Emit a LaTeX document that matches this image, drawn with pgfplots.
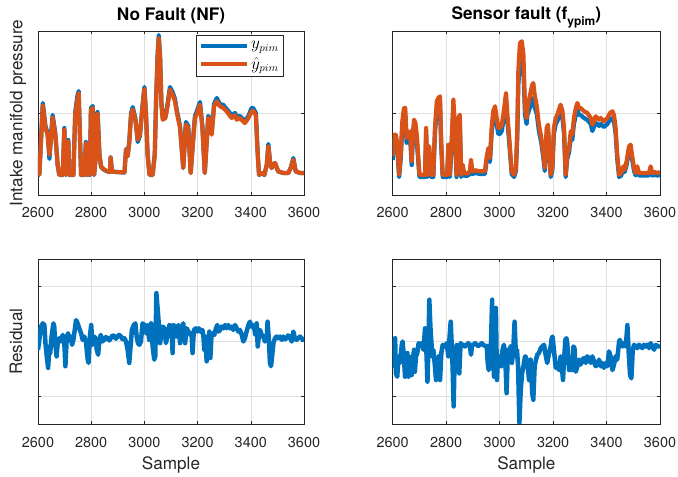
\documentclass[border=0pt]{standalone}
\usepackage{fontspec}
\setmainfont{TeX Gyre Heros}
\usepackage{pgfplots}
\usepackage{pgfplotstable}
\pgfplotsset{compat=1.18}
\definecolor{mblue}{HTML}{0072BD}
\definecolor{morange}{HTML}{D95319}
\definecolor{axgray}{HTML}{262626}
\definecolor{gridgray}{HTML}{DFDFDF}

\pgfplotstableread{
x o b
2600 40.3 41
2605 20.3 20
2618 89.7 92
2628 67 69
2636 60.3 62
2643 40.3 36
2649 57 59
2655 77.7 80
2665 60.3 62
2674 30.3 29
2680 20.3 20
2693 20.3 20
2699 65.3 67
2705 20.3 20
2714 53.7 55
2718 20.3 20
2733 20.3 20
2740 80.3 83
2748 95.3 99
2753 102 104
2757 63.7 65
2762 20.3 20
2774 20.3 20
2780 52 53
2786 20.3 20
2790 47 48
2795 20.3 20
2799 85.3 87
2806 87 89
2811 20.3 20
2818 40 41
2824 81 83
2831 40 41
2837 28.7 28
2849 25.3 25
2862 23.7 23.5
2871 23 23
2873 37.7 38
2878 23.7 23.5
2893 23 23
2925 22.7 22.5
2931 45.3 46
2937 38.7 39
2943 52 53
2950 80.3 82
2956 85.3 88
2966 75.3 77
2975 55.3 53
2983 60.3 59
2991 82 84
3000 106 108
3006 80.3 82
3012 40.3 41
3019 20.3 20
3031 20.3 20
3039 40.3 41
3044 93.7 96
3050 140.3 143
3054 157 160
3059 137 139
3064 90.3 92
3069 75.3 77
3079 77 79
3087 88.7 91
3096 105.3 108
3106 100.3 103
3115 93.7 96
3121 83.7 86
3134 67 69
3146 27 27
3156 70.3 73
3165 67 69
3174 22 22
3184 57 59
3190 77 79
3196 80.3 83
3209 90.3 93
3218 67 69
3227 22 22
3240 77 79
3247 75.3 77
3253 60.3 62
3262 88.7 91
3272 93.7 97
3284 88.7 91
3297 87 90
3309 83.7 86
3328 77 80
3341 79.7 82
3347 75.3 78
3359 77 79
3378 72 74
3391 77 79
3403 83.7 87
3409 84.3 87
3419 79.7 82
3426 40.3 41
3431 20.3 20
3441 22 22
3451 20.3 20
3460 30.3 30
3466 48.7 51
3472 33.7 34
3478 27 27
3491 32 32
3503 23.7 23.5
3522 22 22
3541 22 22
3550 27 27
3560 35.3 37
3569 23.7 23.5
3585 22 22
3600 22 22
}\TLdata

\pgfplotstableread{
x o b
2600 38.7 35
2605 60.3 55
2612 60.3 55
2617 52 47
2624 20.3 18
2630 40.3 36
2636 73.7 68
2642 87 80
2647 87 80
2652 57 52
2659 60.3 55
2665 63.7 58
2671 33.7 30
2675 60.3 55
2680 75.3 69
2685 72 66
2690 60.3 55
2695 40.3 36
2700 20.3 18
2708 20.3 18
2721 20.3 18
2725 67 61
2730 20.3 18
2737 48.7 44
2742 20.3 18
2752 20.3 18
2758 67 61
2765 93.7 86
2771 97 89
2777 98.7 91
2781 57 52
2787 20.3 18
2796 20.3 18
2804 20.3 18
2808 50.3 46
2814 20.3 18
2821 57 52
2827 95.3 88
2833 67 61
2839 20.3 18
2846 77 71
2851 80.3 74
2856 20.3 18
2862 30.3 27
2867 22 19.5
2877 21.3 19
2889 23.7 21
2893 35.3 32
2898 23.7 21
2908 24.7 22
2927 23.7 21
2945 23.7 21
2952 38.7 35
2958 47 43
2964 37 33
2970 67 61
2976 83.7 77
2983 88.7 81
2989 77 71
2995 67 61
3001 67 61
3008 70.3 64
3014 80.3 74
3024 102 94
3029 80.3 74
3036 57 52
3045 23.7 21
3054 20.3 18
3061 27 24
3066 63.7 58
3070 123.7 110
3076 152 135
3083 153.7 137
3089 140.3 124
3095 87 80
3101 77 71
3104 87 80
3114 100.3 88
3122 110.3 96
3126 112 97
3131 100.3 88
3139 88.7 81
3147 70.3 64
3156 57 52
3164 40.3 36
3169 27 24
3176 67 61
3181 70.3 64
3185 50.3 46
3191 20.3 18
3197 27 24
3203 67 61
3210 77 71
3216 80.3 74
3222 85.3 78
3228 90.3 83
3235 83.7 77
3241 67 61
3247 20.3 18
3253 40.3 36
3260 47 43
3266 63.7 58
3272 60.3 55
3278 77 71
3285 87 80
3291 92 85
3297 87 80
3303 87 80
3316 83.7 77
3328 82 75
3341 77 71
3347 70.3 64
3353 73.7 68
3359 78.7 72
3366 77 71
3372 75.3 69
3378 77 71
3390 73.7 68
3403 77 71
3413 82 75
3422 83.7 77
3428 79.7 73
3434 67 61
3440 40.3 36
3447 20.3 18
3455 22 19.5
3463 28.7 26
3468 25.3 23
3475 33.7 30
3484 48.7 44
3490 50.3 46
3496 38.7 35
3503 27 24
3509 22 19.5
3515 28.7 26
3521 22 19.5
3534 22 19.5
3546 22 19.5
3559 22 19.5
3565 28.7 26
3571 22 19.5
3580 23 20
3590 22 19.5
3600 23 20
}\TRdata

\pgfplotstableread{
x r
2600 -0.15
2605 0.03
2611 0.27
2618 0.33
2624 0.30
2628 -0.03
2633 -0.27
2638 -0.48
2643 -0.09
2646 -0.21
2651 0.09
2658 0.33
2661 0.27
2665 -0.03
2670 -0.27
2674 -0.03
2680 0.06
2686 0
2693 0.12
2699 -0.03
2703 -0.45
2708 0.06
2713 0.15
2718 0.03
2723 0.09
2728 -0.06
2733 0.03
2739 0.24
2743 0.39
2749 0.33
2755 0.24
2762 0.15
2768 0.03
2774 0.09
2780 0
2787 -0.33
2790 -0.39
2795 0.09
2800 0.30
2805 -0.06
2811 0.09
2816 0.06
2821 -0.15
2826 -0.24
2831 0.03
2836 0.12
2841 0
2849 0.03
2855 0.08
2862 0.06
2868 0.02
2874 0.06
2880 0.11
2887 0.10
2893 0.05
2899 0.09
2905 0.12
2912 0.09
2918 0.04
2925 0.06
2931 0
2937 -0.15
2943 -0.39
2948 -0.09
2953 0.21
2960 0.30
2966 0.33
2971 0.09
2976 -0.03
2981 -0.06
2987 0
2993 0.33
3000 0.30
3006 0.15
3012 0.30
3018 0.03
3025 0.33
3031 -0.09
3037 -0.33
3041 -0.27
3045 0.88
3049 0.64
3054 0.33
3059 -0.03
3064 0.15
3069 0.27
3075 0.24
3081 -0.03
3087 0.12
3094 0.30
3102 0.27
3106 -0.21
3109 0.30
3115 0.27
3121 0.09
3128 0.30
3134 -0.03
3140 0.24
3146 0.33
3153 -0.03
3159 0.24
3165 0.18
3171 0.15
3178 0.09
3181 -0.21
3186 0.21
3193 0.24
3199 0.18
3205 0.24
3211 0.18
3218 0.21
3222 0.09
3225 -0.15
3229 0.09
3234 -0.36
3239 -0.15
3244 0.18
3248 -0.30
3252 0.09
3257 0.15
3263 0.12
3269 0.24
3274 0.30
3279 0.18
3284 0.21
3290 0.27
3297 0.24
3303 0.30
3309 0.24
3315 0.30
3322 0.24
3328 0.27
3334 0.21
3341 0.30
3347 0.24
3353 0.18
3359 0.21
3366 0.12
3372 0
3378 0.06
3384 0.18
3391 0.30
3397 0.36
3402 0.27
3407 0.30
3412 0.27
3417 0.12
3422 0.33
3426 -0.09
3430 0.09
3435 0.21
3441 0.12
3447 0.09
3453 0
3460 0.06
3463 0.36
3468 0.03
3472 -0.39
3476 -0.45
3480 -0.27
3485 -0.03
3491 0.06
3497 0.09
3503 0.06
3510 0.09
3516 0.03
3522 0.09
3528 0.04
3535 0.06
3540 0.11
3545 0.09
3554 0
3560 0.18
3566 0.06
3572 0.03
3579 0.06
3585 0.09
3591 0.06
3597 0.03
3600 0.06
}\BLdata

\pgfplotstableread{
x r
2600 -0.33
2605 -0.45
2609 0.06
2612 -0.58
2617 -0.64
2622 -0.27
2627 -0.39
2634 -0.06
2637 0
2642 -0.27
2646 -0.64
2650 -0.45
2655 -0.21
2659 -0.64
2662 -0.27
2667 -0.33
2671 -0.61
2675 -0.33
2680 -0.15
2683 -0.55
2687 -0.27
2692 -0.21
2697 -0.03
2702 -0.06
2708 -0.03
2715 -0.15
2721 0.24
2725 -0.03
2730 -0.73
2733 -0.21
2737 0.76
2741 0.27
2745 -0.03
2748 -0.27
2752 -0.15
2757 -0.39
2762 -0.70
2767 -0.45
2772 -0.27
2777 -0.70
2782 -0.21
2787 -0.06
2792 -0.09
2797 -0.09
2802 -0.03
2808 -0.27
2812 0.03
2817 0.36
2821 -0.09
2824 -0.45
2828 -1.18
2832 -0.21
2836 -0.52
2839 -0.06
2844 -0.09
2849 -0.58
2854 -0.03
2859 -0.06
2864 -0.06
2870 -0.09
2877 -0.06
2883 -0.03
2889 -0.09
2893 -0.24
2897 -0.06
2902 -0.06
2908 -0.03
2914 -0.06
2920 -0.08
2927 -0.06
2933 -0.03
2939 -0.06
2945 -0.08
2952 -0.08
2955 -0.36
2959 -0.52
2964 -0.39
2968 0.03
2972 0.76
2975 -0.21
2979 -0.64
2983 -0.15
2986 0.61
2990 -0.70
2994 -0.27
2998 -0.39
3001 -0.27
3006 -0.45
3011 -0.15
3016 -0.06
3021 -0.27
3026 -0.94
3031 -0.15
3036 -0.33
3041 -0.09
3046 -0.39
3051 -0.15
3056 0.36
3061 -0.27
3065 -0.15
3069 -0.45
3074 -1.48
3079 -0.88
3084 -0.58
3089 -0.45
3095 -0.27
3097 -0.27
3104 -0.39
3110 -0.70
3116 -0.33
3122 -0.94
3126 -1.06
3131 -0.45
3136 -0.33
3141 -0.24
3147 -0.21
3154 -0.12
3160 -0.09
3166 -0.06
3172 -0.24
3178 -0.39
3185 -0.21
3191 -0.09
3195 0.06
3198 0.09
3203 -0.15
3210 -0.48
3216 -0.42
3222 -0.52
3228 -0.27
3232 -0.39
3237 -0.70
3241 -0.33
3246 0.03
3250 0.06
3253 -0.03
3260 -0.52
3266 -0.33
3272 -0.52
3276 -0.09
3280 -0.12
3285 -0.55
3291 -0.45
3297 -0.33
3303 -0.42
3309 -0.33
3316 -0.30
3322 -0.39
3328 -0.27
3334 -0.30
3341 -0.39
3347 -0.27
3353 -0.36
3359 -0.45
3366 -0.42
3372 -0.33
3378 -0.45
3384 -0.39
3390 -0.48
3397 -0.39
3403 -0.45
3409 -0.18
3415 -0.27
3422 -0.52
3428 -0.42
3434 -0.27
3440 -0.33
3447 0
3450 0.03
3455 -0.06
3460 -0.09
3465 -0.03
3472 -0.09
3478 0.30
3483 -0.21
3488 -0.61
3493 -0.67
3498 -0.15
3503 -0.06
3509 -0.09
3515 -0.12
3521 -0.06
3528 -0.09
3534 -0.12
3540 -0.06
3546 -0.09
3553 -0.06
3559 -0.12
3565 -0.03
3571 -0.09
3578 -0.15
3584 -0.06
3590 -0.09
3596 -0.09
3600 -0.06
}\BRdata

\pgfplotsset{
  mystyle/.style={
    scale only axis,
    xmin=2600, xmax=3600,
    xtick={2600,2800,3000,3200,3400,3600},
    grid=major,
    major grid style={gridgray, line width=0.6bp},
    axis line style={axgray, line width=0.6bp},
    tick style={axgray, line width=0.6bp},
    major tick length=3bp,
    tick align=inside,
    yticklabels={},
    ticklabel style={font=\fontsize{14.5}{14.5}\selectfont, text=axgray},
    /pgf/number format/assume math mode=true,
    /pgf/number format/1000 sep={},
    xticklabel style={anchor=base, yshift=-23bp},
    label style={font=\fontsize{17.2}{17.2}\selectfont, text=axgray},
    title style={font=\bfseries\fontsize{17.3}{17.3}\selectfont, text=black, at={(axis description cs:0.5,1)}, anchor=base},
  },
  topplot/.style={line width=4.2bp, line join=round},
  resplot/.style={line width=4.5bp, line join=round},
}

\begin{document}
\begin{tikzpicture}
\useasboundingbox (0,0) rectangle (678bp,477bp);

\begin{axis}[mystyle, at={(38bp,282bp)}, anchor=south west,
  width=266bp, height=164bp, ymin=0, ymax=164, ytick={82},
  title={No Fault (NF)}, title style={yshift=5bp},
  ylabel={Intake manifold pressure},
  ylabel style={at={(axis description cs:-0.075,0.5)}, anchor=center},
  legend style={at={(axis description cs:0.925,0.976)}, anchor=north east,
    draw=axgray, line width=0.6bp, fill=white,
    font=\fontsize{16}{16}\selectfont, row sep=3bp, inner xsep=3bp, inner ysep=4bp},
  legend cell align=left,
  legend image code/.code={\draw[#1, line width=4.2bp] (0bp,0bp) -- (46bp,0bp);},
]
\addplot[mblue, topplot] table[x=x, y=b]{\TLdata};
\addplot[morange, topplot] table[x=x, y=o]{\TLdata};
\legend{$y_{pim}$, $\hat{y}_{pim}$}
\end{axis}

\begin{axis}[mystyle, at={(392.7bp,282bp)}, anchor=south west,
  width=267.3bp, height=164bp, ymin=0, ymax=164, ytick={82},
  title={Sensor fault (f\raisebox{-5.5bp}{\fontsize{12}{12}\selectfont ypim})},
  title style={yshift=5.5bp},
]
\addplot[mblue, topplot] table[x=x, y=b]{\TRdata};
\addplot[morange, topplot] table[x=x, y=o]{\TRdata};
\end{axis}

\begin{axis}[mystyle, at={(38bp,53bp)}, anchor=south west,
  width=266bp, height=165bp, ymin=-1.5, ymax=1.5, ytick={-1,0,1},
  ylabel={Residual},
  ylabel style={at={(axis description cs:-0.083,0.5)}, anchor=center},
  xlabel={Sample},
  xlabel style={at={(axis description cs:0.5,0)}, anchor=base, yshift=-45bp},
]
\addplot[mblue, resplot] table[x=x, y=r]{\BLdata};
\end{axis}

\begin{axis}[mystyle, at={(392.7bp,53bp)}, anchor=south west,
  width=267.3bp, height=165bp, ymin=-1.5, ymax=1.5, ytick={-1,0,1},
  xlabel={Sample},
  xlabel style={at={(axis description cs:0.5,0)}, anchor=base, yshift=-45bp},
]
\addplot[mblue, resplot] table[x=x, y=r]{\BRdata};
\end{axis}
\end{tikzpicture}
\end{document}
